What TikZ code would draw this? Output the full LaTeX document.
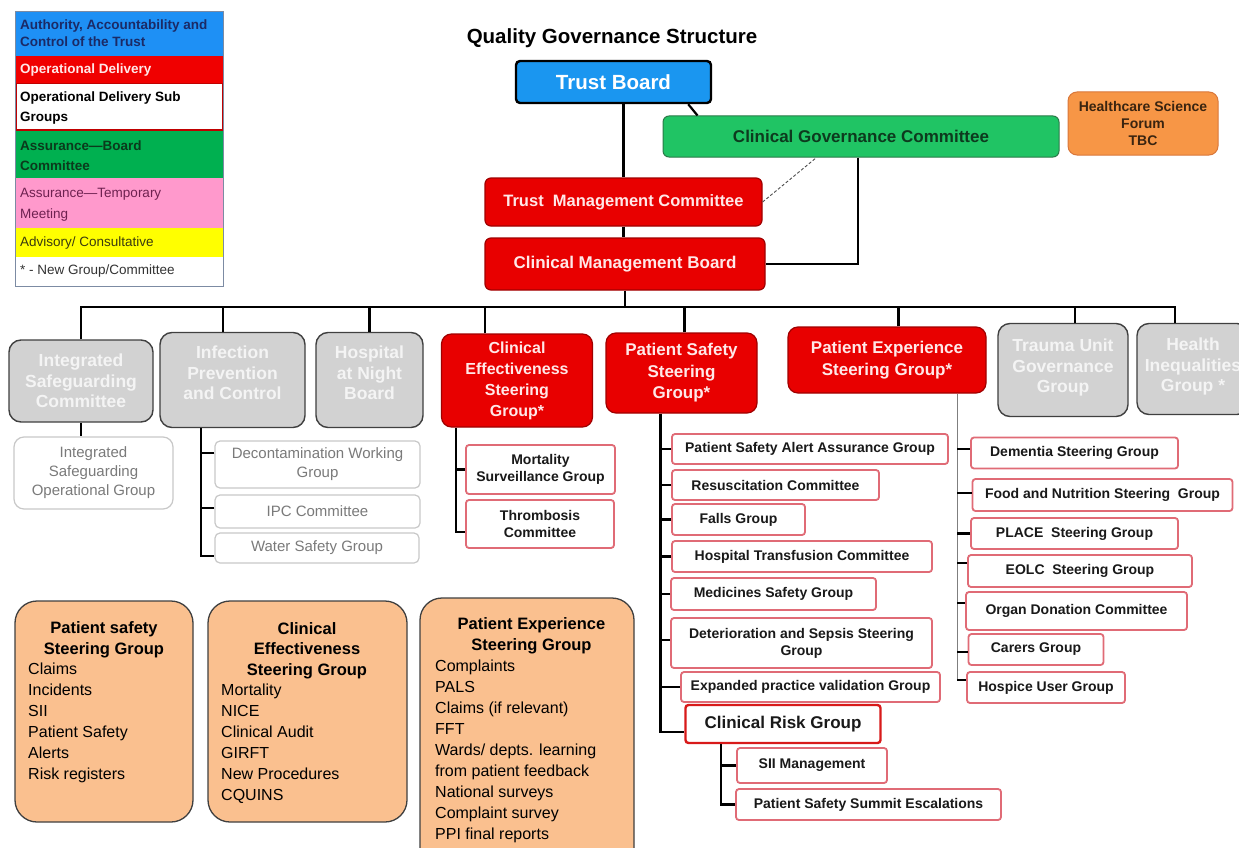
\documentclass[tikz,border=0pt]{standalone}
\usepackage{fontspec}
\setmainfont{Liberation Sans}
\usetikzlibrary{calc}
\definecolor{legblue}{HTML}{1E90F5}
\definecolor{tbblue}{HTML}{1A96F0}
\definecolor{navy}{HTML}{1B2A66}
\definecolor{rfill}{HTML}{E80000}
\definecolor{rborder}{HTML}{A00000}
\definecolor{rtext}{HTML}{FFE8E8}
\definecolor{legred}{HTML}{F00000}
\definecolor{odred}{HTML}{C00000}
\definecolor{leggreen}{HTML}{00B050}
\definecolor{lgreentext}{HTML}{0B3A1C}
\definecolor{legpink}{HTML}{FF99CC}
\definecolor{pinktext}{HTML}{6E2150}
\definecolor{legyellow}{HTML}{FFFF00}
\definecolor{yeltext}{HTML}{3A3A10}
\definecolor{legframe}{HTML}{7C8BA3}
\definecolor{cgcgreen}{HTML}{20C464}
\definecolor{cgcborder}{HTML}{2A7A48}
\definecolor{cgctext}{HTML}{0D3A1E}
\definecolor{hsffill}{HTML}{F79646}
\definecolor{hsfborder}{HTML}{D9773A}
\definecolor{hsftext}{HTML}{3A2410}
\definecolor{gfill}{HTML}{D2D2D2}
\definecolor{gborder}{HTML}{404040}
\definecolor{gtext}{HTML}{F4F4F4}
\definecolor{sborder}{HTML}{E06B76}
\definecolor{crgborder}{HTML}{D81A1A}
\definecolor{lgborder}{HTML}{C8C8C8}
\definecolor{lgtext}{HTML}{7A7A7A}
\definecolor{ofill}{HTML}{FAC08F}
\definecolor{oborder}{HTML}{404040}
\definecolor{trunkgrey}{HTML}{7F7F7F}
\newcommand\fsz[2]{\fontsize{#1pt}{#2pt}\selectfont}
\tikzset{
  sz/.style 2 args={minimum width=#1pt, minimum height=#2pt},
  legtxt/.style={anchor=west, align=left, inner sep=0pt},
  conn/.style={line width=2.2pt, black},
  tbbox/.style={draw=black, fill=tbblue, line width=2.4pt, rounded corners=4pt, text=white, font={\bfseries\fsz{20.5}{24}}, inner sep=0pt},
  cgcbox/.style={draw=cgcborder, fill=cgcgreen, line width=1pt, rounded corners=6pt, text=cgctext, font={\bfseries\fsz{17}{20}}, inner sep=0pt},
  hsfbox/.style={draw=hsfborder, fill=hsffill, line width=1pt, rounded corners=9pt, text=hsftext, font={\bfseries\fsz{14}{17}}, align=center, inner sep=0pt},
  mbox/.style={draw=rborder, fill=rfill, line width=1.2pt, rounded corners=6pt, text=rtext, font={\bfseries\fsz{16.5}{20}}, inner sep=0pt},
  gbox/.style={draw=gborder, fill=gfill, line width=1.4pt, rounded corners=12pt, text=gtext, font={\bfseries\fsz{17.5}{20.5}}, align=center, inner sep=0pt},
  rbox/.style={draw=rborder, fill=rfill, line width=1.2pt, rounded corners=10pt, text=rtext, font={\bfseries\fsz{17}{21.5}}, align=center, inner sep=0pt},
  sbox/.style={draw=sborder, fill=white, line width=1.8pt, rounded corners=3pt, text=black!90, font={\bfseries\fsz{14}{17}}, align=center, inner sep=0pt},
  lbox/.style={draw=lgborder, fill=white, line width=1.2pt, rounded corners=5pt, text=lgtext, font={\fsz{15}{19}}, align=center, inner sep=0pt},
  obox/.style={draw=oborder, fill=ofill, line width=1.3pt, rounded corners=22pt, inner sep=0pt},
  otitle/.style={anchor=north, align=center, inner sep=0pt, font={\bfseries\fsz{16.5}{21}}},
  olist/.style={anchor=north west, align=left, inner sep=0pt, font={\fsz{16}{21}}},
}
\begin{document}
\begin{tikzpicture}[x=1pt,y=-1pt]
\clip (0,0) rectangle (1239,848);
\fill[white] (0,0) rectangle (1239,848);

% ---------- legend ----------
\fill[legblue] (15,12) rectangle (223,56);
\fill[legred] (15,56) rectangle (223,83);
\draw[fill=white, draw=odred, line width=1.5pt] (15.75,83.75) rectangle (222.25,130.25);
\fill[leggreen] (15,131) rectangle (223,178);
\fill[legpink] (15,178) rectangle (223,228);
\fill[legyellow] (15,228) rectangle (223,257);
\draw[legframe, line width=1pt] (15,12) rectangle (223,286);
\node[legtxt, text=navy, font={\bfseries\fsz{13.5}{17}}] (l1) at (20,33.5) {Authority, Accountability and\\Control of the Trust};
\node[legtxt, text=rtext, font={\bfseries\fsz{13.5}{17}}] (l2) at (20,70) {Operational Delivery};
\node[legtxt, text=black, font={\bfseries\fsz{13.5}{20}}] (l3) at (20,108) {Operational Delivery Sub\\Groups};
\node[legtxt, text=lgreentext, font={\bfseries\fsz{13.5}{20}}] (l4) at (20,156) {Assurance—Board\\Committee};
\node[legtxt, text=pinktext, font={\fsz{13.5}{21}}] (l5) at (20,204.5) {Assurance—Temporary\\Meeting};
\node[legtxt, text=yeltext, font={\fsz{13.5}{17}}] (l6) at (20,243) {Advisory/ Consultative};
\node[legtxt, text=black!80, font={\fsz{13.5}{17}}] (l7) at (20,271) {* - New Group/Committee};

% ---------- title and top ----------
\node[font={\bfseries\fsz{20.5}{23}}, inner sep=0pt] (title) at (612,38) {Quality Governance Structure};
\node[tbbox, sz={195}{42}] (tb) at (613.5,82) {Trust Board};
\node[cgcbox, sz={396}{41}] (cgc) at (861,136.5) {Clinical Governance Committee};
\node[hsfbox, sz={150}{63}] (hsf) at (1143,123.5) {Healthcare Science\\Forum\\TBC};
\node[mbox, sz={277}{48}] (tmc) at (623.5,202) {Trust\ \ Management Committee};
\node[mbox, sz={280}{52}, font={\bfseries\fsz{17}{20}}] (cmb) at (625,264) {Clinical Management Board};

% ---------- second level ----------
\node[gbox, sz={144}{82}] (isc) at (81,381) {Integrated\\Safeguarding\\Committee};
\node[gbox, sz={145}{95}] (ipc) at (232.5,380) {Infection\\Prevention\\and Control\\[-6pt]\mbox{}};
\node[gbox, sz={107}{95}] (han) at (369.5,380) {Hospital\\at Night\\Board\\[-6pt]\mbox{}};
\node[rbox, sz={151}{93}, font={\bfseries\fsz{16}{21}}] (ce) at (517,380.5) {Clinical\\Effectiveness\\Steering\\Group*};
\node[rbox, sz={151}{80}] (ps) at (681.5,373) {Patient Safety\\Steering\\Group*};
\node[rbox, sz={198}{66}] (pe) at (887,360) {Patient Experience\\Steering Group*};
\node[gbox, sz={130}{93}] (tu) at (1063,370) {Trauma Unit\\Governance\\Group\\[-12pt]\mbox{}};
\node[gbox, sz={112}{91}] (hi) at (1193,369) {Health\\Inequalities\\Group *\\[-12pt]\mbox{}};

% ---------- sub groups ----------
\node[lbox, sz={159}{72}, rounded corners=10pt] (isog) at (93.5,473) {Integrated\\Safeguarding\\Operational Group};
\node[lbox, sz={205}{47}] (dwg) at (317.5,464.5) {Decontamination Working\\Group};
\node[lbox, sz={205}{33}] (ipcc) at (317.5,511.5) {IPC Committee};
\node[lbox, sz={204}{30}] (wsg) at (317,548) {Water Safety Group};

\node[sbox, sz={149}{49}] (msg) at (540.5,469.5) {Mortality\\Surveillance Group};
\node[sbox, sz={148}{48}] (thc) at (540,524) {Thrombosis\\Committee};

\node[sbox, sz={276}{30}] (pas) at (810,449) {Patient Safety Alert Assurance Group};
\node[sbox, sz={207}{30}] (rc) at (775.5,485) {Resuscitation Committee};
\node[sbox, sz={133}{31}] (fg) at (738.5,519.5) {Falls Group};
\node[sbox, sz={260}{31}] (htc) at (802,556.5) {Hospital Transfusion Committee};
\node[sbox, sz={205}{32}] (msafe) at (773.5,594) {Medicines Safety Group};
\node[sbox, sz={261}{50}] (dss) at (801.5,643) {Deterioration and Sepsis Steering\\Group};
\node[sbox, sz={259}{30}] (epv) at (810.5,687) {Expanded practice validation Group};
\node[sbox, sz={195}{38}, draw=crgborder, line width=2.4pt, font={\bfseries\fsz{17}{20}}] (crg) at (783,724) {Clinical Risk Group};
\node[sbox, sz={150}{35}] (sii) at (812,765.5) {SII Management};
\node[sbox, sz={265}{31}] (psse) at (868.5,804.5) {Patient Safety Summit Escalations};

\node[sbox, sz={207}{31}] (dem) at (1074.5,453) {Dementia Steering Group};
\node[sbox, sz={260}{32}] (fns) at (1102.5,495) {Food and Nutrition Steering\ \ Group};
\node[sbox, sz={207}{31}] (place) at (1074.5,533.5) {PLACE\ \ Steering Group};
\node[sbox, sz={224}{32}] (eolc) at (1080,571) {EOLC\ \ Steering Group};
\node[sbox, sz={221}{38}] (odc) at (1076.5,611) {Organ Donation Committee};
\node[sbox, sz={135}{31}] (car) at (1036,649.5) {Carers Group};
\node[sbox, sz={158}{31}] (hug) at (1046,687.5) {Hospice User Group};

% ---------- bottom boxes ----------
\node[obox, sz={178}{221}] (b1) at (104,711.5) {};
\node[otitle] (b1t) at (104,621) {Patient safety\\Steering Group};
\node[olist] (b1l) at (28,663) {Claims\\Incidents\\SII\\Patient Safety\\Alerts\\Risk registers};
\node[obox, sz={199}{221}] (b2) at (307.5,711.5) {};
\node[otitle, font={\bfseries\fsz{16.5}{20.5}}] (b2t) at (307,622) {Clinical\\Effectiveness\\Steering Group};
\node[olist] (b2l) at (221,684) {Mortality\\NICE\\Clinical Audit\\GIRFT\\New Procedures\\CQUINS};
\node[obox, sz={214}{272}] (b3) at (527,734) {};
\node[otitle] (b3t) at (531.5,617) {Patient Experience\\Steering Group};
\node[olist] (b3l) at (435,660) {Complaints\\PALS\\Claims (if relevant)\\FFT\\Wards/ depts. learning\\from patient feedback\\National surveys\\Complaint survey\\PPI final reports};

% ---------- top connectors ----------
\draw[conn] (tmc.north) -- (tmc.north |- tb.south);
\draw[conn] ($(tb.south east)+(-24,0)$) -- ($(cgc.north west)+(35,0)$);
\draw[draw=black!70, line width=0.9pt, dash pattern=on 3pt off 2pt] (tmc.east) -- ($(cgc.south west)+(154,0)$);
\draw[conn] ($(cgc.south)+(-3,0)$) |- (cmb.east);
\draw[conn] (tmc.south) -- (tmc.south |- cmb.north);

% ---------- bus ----------
\coordinate (bus) at (626,307);
\coordinate (dIPC) at ($(ipc.north west)+(64,0)$);
\coordinate (dCE) at ($(ce.north west)+(44,0)$);
\coordinate (dPS) at ($(ps.north west)+(79,0)$);
\coordinate (dPE) at ($(pe.north west)+(111,0)$);
\coordinate (dTU) at ($(tu.north west)+(78,0)$);
\coordinate (dHI) at ($(hi.north west)+(39,0)$);
\draw[conn] (cmb.south) -- (cmb.south |- bus);
\draw[conn] (isc.north) -- (isc.north |- bus) -- (dHI |- bus) -- (dHI);
\draw[conn] (dIPC) -- (dIPC |- bus);
\draw[conn] (han.north) -- (han.north |- bus);
\draw[conn] (dCE) -- (dCE |- bus);
\draw[conn] (dPS) -- (dPS |- bus);
\draw[conn] (dPE) -- (dPE |- bus);
\draw[conn] (dTU) -- (dTU |- bus);

% ---------- sub connectors ----------
\draw[conn] (isc.south) -- (isc.south |- isog.north);

\coordinate (ipct) at ($(ipc.south west)+(42,0)$);
\draw[conn] (ipct) |- ($(wsg.west)+(0,8)$);
\draw[conn] ($(dwg.west)+(0,-11.5)$) -- ($(ipct |- dwg.west)+(0,-11.5)$);
\draw[conn] ($(ipcc.west)+(0,-3.5)$) -- ($(ipct |- ipcc.west)+(0,-3.5)$);

\coordinate (cet) at ($(ce.south west)+(15,0)$);
\draw[conn] (cet) |- ($(thc.west)+(0,8)$);
\draw[conn] (msg.west) -- (cet |- msg.west);

\coordinate (pst) at ($(ps.south west)+(55,0)$);
\draw[conn] (pst) |- ($(crg.west)+(0,8)$);
\foreach \n in {pas,rc,fg,htc,msafe,epv}{\draw[conn] (\n.west) -- (pst |- \n.west);}
\draw[conn] ($(dss.west)+(0,-3)$) -- ($(pst |- dss.west)+(0,-3)$);

\coordinate (crgt) at ($(crg.south west)+(37,0)$);
\draw[conn] (crgt) |- (psse.west);
\draw[conn] (sii.west) -- (crgt |- sii.west);

\coordinate (pet) at ($(pe.south west)+(170,0)$);
\draw[trunkgrey, line width=1.5pt] (pet) -- ($(pet |- hug.west)+(0,-7.5)$);
\draw[conn] ($(dem.west)+(0,-4)$) -- ($(pet |- dem.west)+(0,-4)$);
\draw[conn] ($(fns.west)+(0,-2)$) -- ($(pet |- fns.west)+(0,-2)$);
\draw[conn] (place.west) -- (pet |- place.west);
\draw[conn] ($(eolc.west)+(0,-8)$) -- ($(pet |- eolc.west)+(0,-8)$);
\draw[conn] ($(odc.west)+(0,-8)$) -- ($(pet |- odc.west)+(0,-8)$);
\draw[conn] ($(car.west)+(0,2.5)$) -- ($(pet |- car.west)+(0,2.5)$);
\draw[conn] ($(hug.west)+(0,-7.5)$) -- ($(pet |- hug.west)+(0,-7.5)$);
\end{tikzpicture}
\end{document}
